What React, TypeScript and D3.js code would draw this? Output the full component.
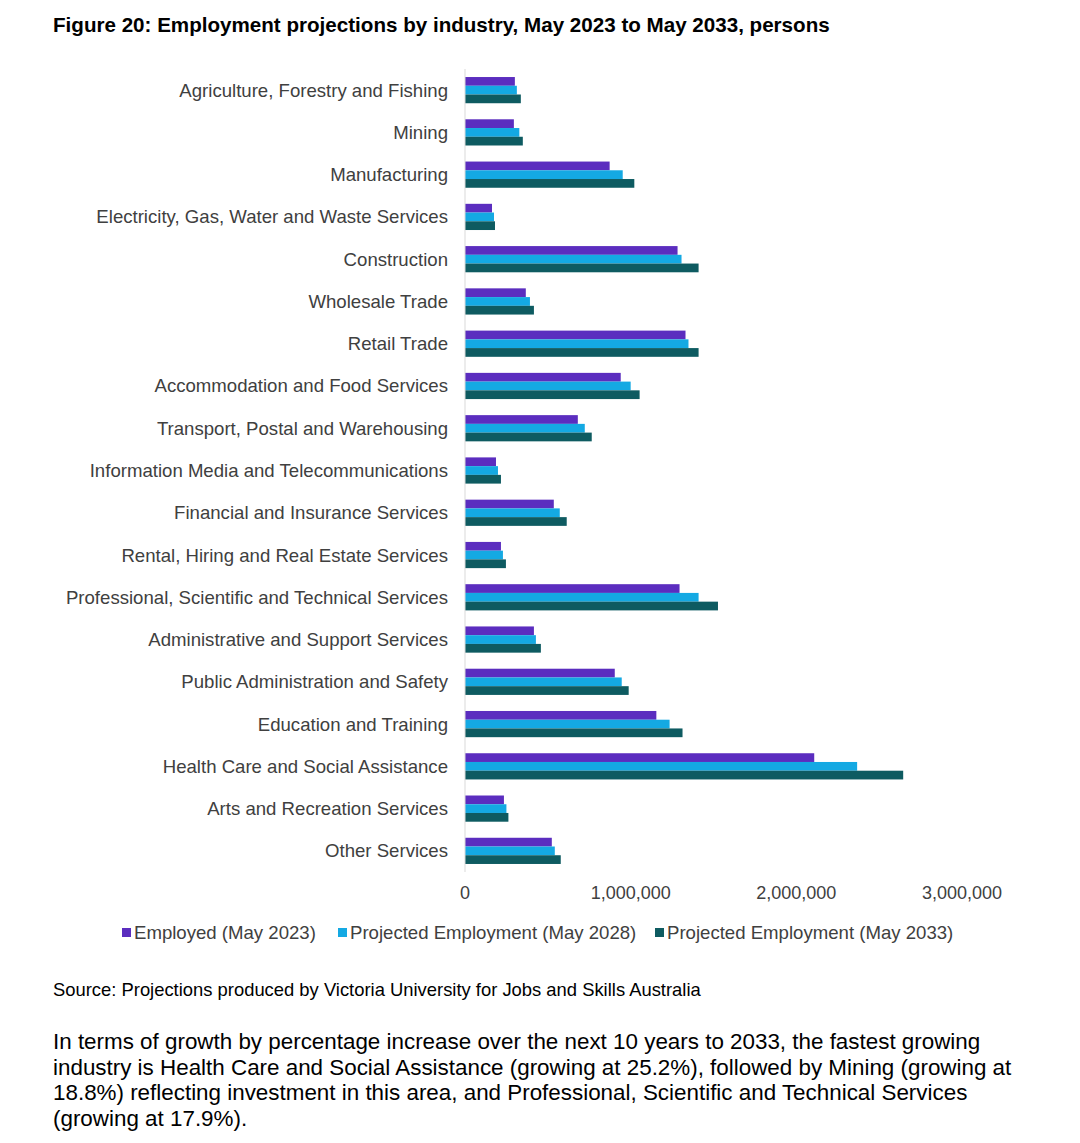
import * as d3 from "d3";

const industries = [
  "Agriculture, Forestry and Fishing",
  "Mining",
  "Manufacturing",
  "Electricity, Gas, Water and Waste Services",
  "Construction",
  "Wholesale Trade",
  "Retail Trade",
  "Accommodation and Food Services",
  "Transport, Postal and Warehousing",
  "Information Media and Telecommunications",
  "Financial and Insurance Services",
  "Rental, Hiring and Real Estate Services",
  "Professional, Scientific and Technical Services",
  "Administrative and Support Services",
  "Public Administration and Safety",
  "Education and Training",
  "Health Care and Social Assistance",
  "Arts and Recreation Services",
  "Other Services",
];

const employed2023 = [
  301000, 295000, 873000, 163000, 1283000, 367000, 1331000, 940000, 681000, 187000,
  536000, 217000, 1295000, 416000, 904000, 1155000, 2108000, 235000, 524000,
];
const projected2028 = [
  313000, 328000, 952000, 175000, 1307000, 392000, 1349000, 1000000, 723000, 199000,
  572000, 229000, 1410000, 428000, 946000, 1235000, 2367000, 250000, 542000,
];
const projected2033 = [
  337000, 349000, 1022000, 181000, 1410000, 416000, 1410000, 1054000, 765000, 217000,
  614000, 247000, 1527000, 458000, 988000, 1313000, 2645000, 262000, 578000,
];

const seriesNames = [
  "Employed (May 2023)",
  "Projected Employment (May 2028)",
  "Projected Employment (May 2033)",
];
const seriesColors = ["#5b2dbf", "#14a9e3", "#0e5b61"];
const xTicks = [0, 1000000, 2000000, 3000000];

const paragraph = [
  "In terms of growth by percentage increase over the next 10 years to 2033, the fastest growing",
  "industry is Health Care and Social Assistance (growing at 25.2%), followed by Mining (growing at",
  "18.8%) reflecting investment in this area, and Professional, Scientific and Technical Services",
  "(growing at 17.9%).",
];

export default function App() {
  const width = 1080;
  const height = 1143;
  const font = "'Liberation Sans', Arial, sans-serif";

  const x = d3.scaleLinear().domain([0, 3000000]).range([465, 962]);
  const y = d3
    .scaleBand()
    .domain(industries)
    .range([69, 872])
    .paddingInner(0.38)
    .paddingOuter(0.19);
  const inner = d3.scaleBand().domain(["0", "1", "2"]).range([0, y.bandwidth()]);

  const series = [employed2023, projected2028, projected2033];
  const fmt = d3.format(",");

  const legendX = [122, 338, 655];

  return (
    <svg
      width={width}
      height={height}
      style={{ position: "absolute", left: 0, top: 0, background: "#fff" }}
      fontFamily={font}
    >
      <text x={53} y={32} fontSize={20.6} fontWeight="bold" fill="#000">
        Figure 20: Employment projections by industry, May 2023 to May 2033, persons
      </text>

      {/* category labels */}
      {industries.map((d) => (
        <text
          key={d}
          x={448}
          y={y(d)! + y.bandwidth() / 2}
          dy="0.35em"
          textAnchor="end"
          fontSize={18.6}
          fill="#404040"
        >
          {d}
        </text>
      ))}

      {/* bars */}
      {series.map((vals, si) =>
        industries.map((d, i) => (
          <rect
            key={`${si}-${d}`}
            x={x(0)}
            y={y(d)! + inner(String(si))!}
            width={x(vals[i]) - x(0)}
            height={inner.bandwidth()}
            fill={seriesColors[si]}
          />
        ))
      )}

      <line x1={x(0)} x2={x(0)} y1={69} y2={872} stroke="#d9d9d9" strokeWidth={1} />

      {xTicks.map((t) => (
        <text key={t} x={x(t)} y={899} textAnchor="middle" fontSize={18} fill="#404040">
          {fmt(t)}
        </text>
      ))}

      {/* legend */}
      {seriesNames.map((n, i) => (
        <g key={n}>
          <rect x={legendX[i]} y={928} width={9} height={9} fill={seriesColors[i]} />
          <text x={legendX[i] + 12} y={939} fontSize={18.6} fill="#404040">
            {n}
          </text>
        </g>
      ))}

      <text x={53} y={996} fontSize={18.4} fill="#000">
        Source: Projections produced by Victoria University for Jobs and Skills Australia
      </text>

      <text fontSize={22.4} fill="#000">
        {paragraph.map((line, i) => (
          <tspan key={i} x={53} y={1049 + i * 25.7}>
            {line}
          </tspan>
        ))}
      </text>
    </svg>
  );
}
